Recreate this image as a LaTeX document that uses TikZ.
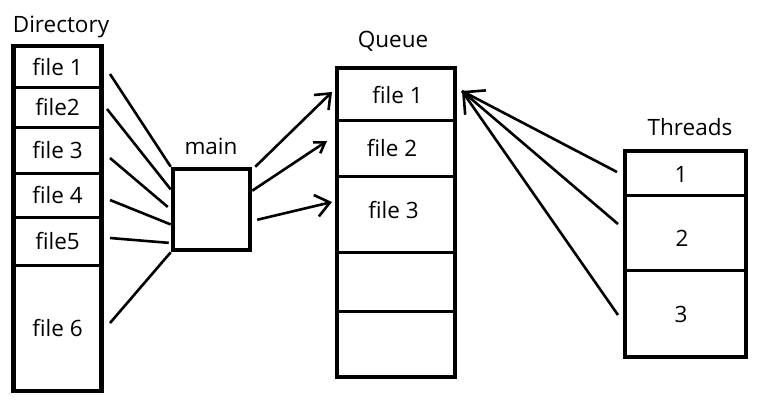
\documentclass[tikz,border=0pt]{standalone}
\usepackage{fontspec}
\setmainfont{Open Sans}
\usetikzlibrary{arrows.meta,calc}
\begin{document}
\begin{tikzpicture}[x=1pt,y=-1pt,
  txt/.style={font=\fontsize{22.5}{26}\selectfont, inner sep=0pt},
  cellbox/.style={draw, line width=3pt, inner sep=0pt, font=\fontsize{22.5}{26}\selectfont},
  frame/.style={draw, line width=4.5pt},
  conn/.style={line width=2.6pt},
]
\useasboundingbox (0,0) rectangle (768,416);
\fill[white] (0,0) rectangle (768,416);

% ---- Directory ----
\node[txt, anchor=base] (dirlbl) at (61,32) {Directory};
\node[cellbox, minimum width=88pt, minimum height=41pt]  (d1) at (57.5,66.5) {file 1};
\node[cellbox, minimum width=88pt, minimum height=40pt]  (d2) at (57.5,107)  {file2};
\node[cellbox, minimum width=88pt, minimum height=46pt]  (d3) at (57.5,150)  {file 3};
\node[cellbox, minimum width=88pt, minimum height=44pt]  (d4) at (57.5,195)  {file 4};
\node[cellbox, minimum width=88pt, minimum height=48pt]  (d5) at (57.5,241)  {file5};
\node[cellbox, minimum width=88pt, minimum height=126pt] (d6) at (57.5,328)  {file 6};
\draw[frame] (13.5,46) rectangle (101.5,391);

% ---- main ----
\node[txt, anchor=base] (mainlbl) at (211,154) {main};
\node[draw, line width=4.5pt, minimum width=77pt, minimum height=81pt, inner sep=0pt] (main) at (211.5,209.5) {};

% ---- Queue ----
\node[txt, anchor=base] (qlbl) at (393,47) {Queue};
\node[cellbox, minimum width=118pt, minimum height=52pt] (q1) at (396,94)    {};
\node[cellbox, minimum width=118pt, minimum height=56pt] (q2) at (396,148)   {};
\node[cellbox, minimum width=118pt, minimum height=76pt] (q3) at (396,214)   {};
\node[cellbox, minimum width=118pt, minimum height=59pt] (q4) at (396,281.5) {};
\node[cellbox, minimum width=118pt, minimum height=66pt] (q5) at (396,344)   {};
\node[txt] (q1t) at (397.5,95) {file 1};
\node[txt] (q2t) at (392,148) {file 2};
\node[txt] (q3t) at (393.5,210) {file 3};
\draw[frame] (337,68) rectangle (455,377);

% ---- Threads ----
\node[txt, anchor=base] (tlbl) at (690,135) {Threads};
\node[cellbox, minimum width=121pt, minimum height=44pt] (t1) at (685.5,173)   {};
\node[cellbox, minimum width=121pt, minimum height=75pt] (t2) at (685.5,232.5) {};
\node[cellbox, minimum width=121pt, minimum height=87pt] (t3) at (685.5,313.5) {};
\node[txt] (t1t) at (681,174) {1};
\node[txt] (t2t) at (682,238) {2};
\node[txt] (t3t) at (681,314) {3};
\draw[frame] (625,151) rectangle (746,357);

% ---- Directory -> main ----
\coordinate (s1) at (110,74);
\coordinate (s2) at (107,109);
\coordinate (s3) at (110,158);
\coordinate (s4) at (110,200);
\coordinate (s5) at (110,238);
\coordinate (s6) at (110,323);
\draw[conn] (s1) -- (main.north west);
\draw[conn] (s2) -- ($(main.north west)!0.265!(main.south west)$);
\draw[conn] (s3) -- ($(main.north west)!0.47!(main.south west)+(-3,0)$);
\draw[conn] (s4) -- ($(main.north west)!0.675!(main.south west)$);
\draw[conn] (s5) -- ($(main.north west)!0.89!(main.south west)+(-2,0)$);
\draw[conn] (s6) -- (main.south west);

% ---- main -> Queue ----
\coordinate (a1) at (332,92);
\coordinate (a2) at (327,141);
\coordinate (a3) at (332,202);
\draw[conn, -{Straight Barb[length=13pt,width=21pt]}] ($(main.north east)+(3,0)$) -- (a1);
\draw[conn, -{Straight Barb[length=10pt,width=13pt]}] ($(main.north east)!0.28!(main.south east)$) -- (a2);
\draw[conn, -{Straight Barb[length=14pt,width=22pt]}] ($(main.north east)!0.62!(main.south east)+(5,0)$) -- (a3);

% ---- Threads -> Queue ----
\coordinate (qt) at (462,91);
\coordinate (b1) at (617,172);
\coordinate (b2) at (618,224);
\coordinate (b3) at (618,315);
\draw[conn] (b1) -- (qt);
\draw[conn, -{Straight Barb[length=16pt,width=32pt]}] (b2) -- (qt);
\draw[conn] (b3) -- (qt);
\end{tikzpicture}
\end{document}
